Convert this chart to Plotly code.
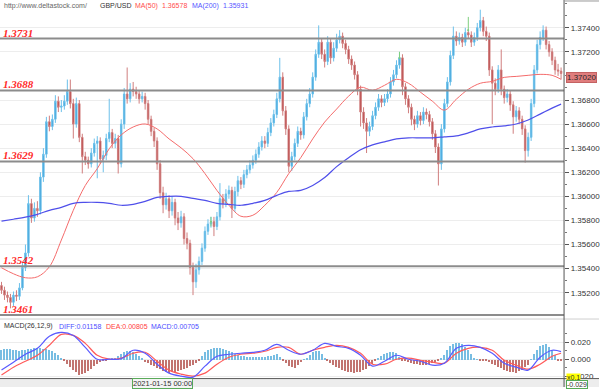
import plotly.graph_objects as go

# ---------------- data ----------------
opens = [
1.3526,1.3522,1.3518,1.3516,1.3512,1.3518,1.3517,1.3524,1.3541,1.3553,
1.3594,1.3582,1.3590,1.3588,1.3616,1.3635,1.3662,1.3658,1.3664,1.3679,
1.3674,1.3675,1.3679,1.3687,1.3677,1.3660,1.3677,1.3649,1.3633,1.3630,
1.3627,1.3636,1.3644,1.3646,1.3631,1.3634,1.3648,1.3653,1.3644,1.3648,
1.3627,1.3660,1.3685,1.3681,1.3689,1.3687,1.3685,1.3681,1.3683,1.3677,
1.3664,1.3654,1.3646,1.3627,1.3603,1.3593,1.3598,1.3588,1.3595,1.3582,
1.3578,1.3583,1.3565,1.3561,1.3541,1.3529,1.3539,1.3546,1.3557,1.3571,
1.3577,1.3579,1.3575,1.3583,1.3598,1.3594,1.3602,1.3605,1.3590,1.3604,
1.3613,1.3610,1.3618,1.3622,1.3626,1.3630,1.3635,1.3641,1.3646,1.3644,
1.3653,1.3661,1.3668,1.3681,1.3699,1.3671,1.3656,1.3625,1.3633,1.3644,
1.3654,1.3651,1.3666,1.3677,1.3685,1.3699,1.3718,1.3728,1.3718,1.3712,
1.3728,1.3715,1.3723,1.3730,1.3733,1.3727,1.3722,1.3714,1.3709,1.3701,
1.3689,1.3670,1.3661,1.3654,1.3658,1.3667,1.3674,1.3681,1.3678,1.3681,
1.3685,1.3695,1.3701,1.3709,1.3715,1.3691,1.3681,1.3674,1.3664,1.3660,
1.3667,1.3663,1.3670,1.3668,1.3662,1.3652,1.3641,1.3627,1.3656,1.3677,
1.3695,1.3717,1.3733,1.3729,1.3732,1.3728,1.3736,1.3734,1.3728,1.3732,
1.3740,1.3746,1.3737,1.3733,1.3705,1.3694,1.3689,1.3705,1.3689,1.3682,
1.3685,1.3676,1.3666,1.3671,1.3664,1.3656,1.3638,1.3649,1.3677,1.3705,
1.3726,1.3732,1.3738,1.3726,1.3720,1.3713,1.3705,1.3704]

highs = [
1.3529,1.3525,1.3521,1.3519,1.3521,1.3522,1.3528,1.3545,1.3560,1.3601,
1.3598,1.3595,1.3596,1.3620,1.3640,1.3666,1.3667,1.3668,1.3684,1.3683,
1.3680,1.3684,1.3697,1.3697,1.3681,1.3682,1.3680,1.3652,1.3637,1.3633,
1.3640,1.3648,1.3650,1.3649,1.3638,1.3652,1.3681,1.3656,1.3652,1.3651,
1.3664,1.3690,1.3707,1.3694,1.3695,1.3691,1.3688,1.3687,1.3686,1.3680,
1.3667,1.3657,1.3649,1.3630,1.3608,1.3603,1.3601,1.3600,1.3598,1.3587,
1.3588,1.3586,1.3570,1.3564,1.3545,1.3544,1.3550,1.3561,1.3575,1.3581,
1.3583,1.3583,1.3587,1.3611,1.3602,1.3606,1.3609,1.3608,1.3608,1.3617,
1.3616,1.3622,1.3626,1.3630,1.3634,1.3639,1.3645,1.3650,1.3650,1.3657,
1.3665,1.3672,1.3686,1.3715,1.3703,1.3675,1.3659,1.3637,1.3648,1.3658,
1.3657,1.3670,1.3681,1.3690,1.3703,1.3722,1.3742,1.3731,1.3722,1.3733,
1.3731,1.3728,1.3735,1.3738,1.3736,1.3730,1.3725,1.3717,1.3712,1.3704,
1.3692,1.3674,1.3665,1.3662,1.3671,1.3678,1.3685,1.3684,1.3685,1.3689,
1.3699,1.3705,1.3713,1.3720,1.3718,1.3694,1.3684,1.3677,1.3667,1.3671,
1.3670,1.3674,1.3673,1.3671,1.3665,1.3655,1.3644,1.3660,1.3681,1.3699,
1.3721,1.3741,1.3737,1.3736,1.3735,1.3740,1.3739,1.3737,1.3736,1.3744,
1.3755,1.3749,1.3741,1.3736,1.3708,1.3698,1.3709,1.3722,1.3692,1.3689,
1.3688,1.3679,1.3675,1.3674,1.3667,1.3659,1.3653,1.3681,1.3709,1.3730,
1.3737,1.3742,1.3741,1.3729,1.3723,1.3716,1.3710,1.3707]

lows = [
1.3519,1.3514,1.3512,1.3507,1.3509,1.3513,1.3514,1.3522,1.3538,1.3550,
1.3578,1.3579,1.3583,1.3585,1.3612,1.3632,1.3654,1.3655,1.3661,1.3670,
1.3670,1.3672,1.3676,1.3673,1.3648,1.3657,1.3645,1.3619,1.3626,1.3623,
1.3624,1.3633,1.3615,1.3627,1.3620,1.3630,1.3645,1.3640,1.3640,1.3619,
1.3624,1.3656,1.3677,1.3678,1.3683,1.3681,1.3677,1.3678,1.3672,1.3660,
1.3650,1.3641,1.3622,1.3598,1.3586,1.3589,1.3582,1.3584,1.3576,1.3572,
1.3574,1.3560,1.3556,1.3535,1.3518,1.3524,1.3535,1.3543,1.3554,1.3568,
1.3574,1.3567,1.3572,1.3580,1.3590,1.3591,1.3598,1.3582,1.3587,1.3600,
1.3606,1.3607,1.3615,1.3619,1.3623,1.3627,1.3632,1.3638,1.3640,1.3641,
1.3650,1.3658,1.3665,1.3678,1.3667,1.3651,1.3620,1.3621,1.3630,1.3641,
1.3647,1.3648,1.3663,1.3674,1.3682,1.3696,1.3715,1.3714,1.3707,1.3709,
1.3710,1.3712,1.3720,1.3727,1.3723,1.3718,1.3710,1.3705,1.3697,1.3684,
1.3658,1.3656,1.3636,1.3650,1.3655,1.3664,1.3671,1.3674,1.3675,1.3678,
1.3682,1.3692,1.3698,1.3706,1.3684,1.3676,1.3669,1.3659,1.3655,1.3657,
1.3659,1.3660,1.3664,1.3658,1.3647,1.3636,1.3609,1.3622,1.3653,1.3674,
1.3692,1.3714,1.3725,1.3726,1.3724,1.3725,1.3731,1.3724,1.3725,1.3729,
1.3737,1.3733,1.3729,1.3700,1.3660,1.3684,1.3686,1.3684,1.3677,1.3678,
1.3671,1.3652,1.3662,1.3660,1.3651,1.3628,1.3633,1.3646,1.3674,1.3702,
1.3722,1.3729,1.3722,1.3716,1.3709,1.3701,1.3700,1.3697]

closes = [
1.3522,1.3518,1.3516,1.3512,1.3518,1.3517,1.3524,1.3541,1.3553,1.3594,
1.3582,1.3590,1.3588,1.3616,1.3635,1.3662,1.3658,1.3664,1.3679,1.3674,
1.3675,1.3679,1.3687,1.3677,1.3660,1.3677,1.3649,1.3633,1.3630,1.3627,
1.3636,1.3644,1.3646,1.3631,1.3634,1.3648,1.3653,1.3644,1.3648,1.3627,
1.3660,1.3685,1.3681,1.3689,1.3687,1.3685,1.3681,1.3683,1.3677,1.3664,
1.3654,1.3646,1.3627,1.3603,1.3593,1.3598,1.3588,1.3595,1.3582,1.3578,
1.3583,1.3565,1.3561,1.3541,1.3529,1.3539,1.3546,1.3557,1.3571,1.3577,
1.3579,1.3575,1.3583,1.3598,1.3594,1.3602,1.3605,1.3590,1.3604,1.3613,
1.3610,1.3618,1.3622,1.3626,1.3630,1.3635,1.3641,1.3646,1.3644,1.3653,
1.3661,1.3668,1.3681,1.3699,1.3671,1.3656,1.3625,1.3633,1.3644,1.3654,
1.3651,1.3666,1.3677,1.3685,1.3699,1.3718,1.3728,1.3718,1.3712,1.3728,
1.3715,1.3723,1.3730,1.3733,1.3727,1.3722,1.3714,1.3709,1.3701,1.3689,
1.3670,1.3661,1.3654,1.3658,1.3667,1.3674,1.3681,1.3678,1.3681,1.3685,
1.3695,1.3701,1.3709,1.3715,1.3691,1.3681,1.3674,1.3664,1.3660,1.3667,
1.3663,1.3670,1.3668,1.3662,1.3652,1.3641,1.3627,1.3656,1.3677,1.3695,
1.3717,1.3733,1.3729,1.3732,1.3728,1.3736,1.3734,1.3728,1.3732,1.3740,
1.3746,1.3737,1.3733,1.3705,1.3694,1.3689,1.3705,1.3689,1.3682,1.3685,
1.3676,1.3666,1.3671,1.3664,1.3656,1.3638,1.3649,1.3677,1.3705,1.3726,
1.3732,1.3738,1.3726,1.3720,1.3713,1.3705,1.3704,1.3702]

# neutral (green) candles
doji_idx = [70, 133, 156]
doji_open = [1.3579, 1.3715, 1.3738]
doji_high = [1.3583, 1.3720, 1.3749]
doji_low = [1.3575, 1.3714, 1.3737]
doji_close = [1.3579, 1.3715, 1.3738]

# moving averages, sampled every 4 bars (+ last bar)
ma_idx = list(range(0, 188, 4)) + [187]
ma50 = [1.35407,1.35357,1.35324,1.35332,1.35415,1.35637,1.35884,1.36090,1.36230,1.36395,
        1.36510,1.36576,1.36601,1.36560,1.36477,1.36403,1.36313,1.36189,1.36049,1.35926,
        1.35835,1.35843,1.35926,1.36033,1.36189,1.36321,1.36477,1.36617,1.36725,1.36832,
        1.36906,1.36881,1.36922,1.36972,1.36939,1.36865,1.36790,1.36716,1.36807,1.36889,
        1.36939,1.36955,1.36988,1.36996,1.37005,1.37013,1.37005,1.36972]
ma200 = [1.35794,1.35810,1.35827,1.35851,1.35884,1.35909,1.35942,1.35950,1.35950,1.35942,
         1.35926,1.35934,1.35958,1.35991,1.36000,1.36000,1.35983,1.35967,1.35942,1.35934,
         1.35926,1.35942,1.35967,1.36008,1.36041,1.36049,1.36090,1.36156,1.36247,1.36321,
         1.36387,1.36428,1.36453,1.36477,1.36486,1.36486,1.36486,1.36494,1.36502,1.36527,
         1.36560,1.36576,1.36585,1.36601,1.36634,1.36683,1.36733,1.36766]

# MACD lines (same sampling as MAs)
diff = [-0.0129,-0.0035,0.0059,0.0129,0.0271,0.0318,0.0282,0.0141,0.0000,0.0000,
        0.0005,0.0106,0.0071,-0.0059,-0.0165,-0.0200,-0.0212,-0.0082,0.0035,0.0059,
        0.0071,0.0082,0.0106,0.0176,0.0106,0.0059,0.0106,0.0188,0.0153,0.0129,
        0.0047,-0.0082,-0.0024,0.0047,0.0000,-0.0024,-0.0071,-0.0047,0.0129,0.0165,
        0.0141,0.0071,-0.0047,-0.0094,-0.0129,0.0024,0.0106,0.0090]
dea = [-0.0188,-0.0094,-0.0024,0.0047,0.0165,0.0294,0.0282,0.0188,0.0047,0.0000,
       0.0012,0.0071,0.0082,-0.0024,-0.0129,-0.0176,-0.0200,-0.0165,-0.0059,0.0024,
       0.0059,0.0071,0.0094,0.0141,0.0141,0.0059,0.0106,0.0141,0.0165,0.0141,
       0.0071,-0.0059,-0.0059,0.0000,0.0012,-0.0012,-0.0035,-0.0047,0.0071,0.0129,
       0.0141,0.0106,-0.0012,-0.0071,-0.0118,-0.0059,0.0035,0.0071]
macd_hist = [
0.0118,0.0124,0.0129,0.0122,0.0118,0.0112,0.0106,0.0112,0.0118,0.0124,
0.0129,0.0135,0.0141,0.0135,0.0129,0.0124,0.0118,0.0100,0.0082,0.0053,
0.0024,-0.0012,-0.0047,-0.0082,-0.0118,-0.0147,-0.0176,-0.0165,-0.0153,-0.0130,
-0.0106,-0.0076,-0.0047,-0.0030,-0.0012,-0.0004,0.0006,0.0015,0.0024,0.0047,
0.0071,0.0088,0.0106,0.0100,0.0094,0.0071,0.0047,0.0012,-0.0024,-0.0041,
-0.0059,-0.0076,-0.0094,-0.0112,-0.0129,-0.0141,-0.0153,-0.0147,-0.0141,-0.0130,
-0.0118,-0.0106,-0.0094,-0.0076,-0.0059,-0.0035,-0.0012,0.0041,0.0094,0.0112,
0.0129,0.0135,0.0141,0.0135,0.0129,0.0118,0.0106,0.0088,0.0071,0.0059,
0.0047,0.0041,0.0035,0.0035,0.0035,0.0035,0.0035,0.0035,0.0035,0.0041,
0.0047,0.0059,0.0071,0.0030,-0.0012,-0.0041,-0.0071,-0.0082,-0.0094,-0.0059,
-0.0024,0.0004,0.0024,0.0059,0.0094,0.0100,0.0106,0.0065,0.0024,-0.0006,
-0.0035,-0.0059,-0.0082,-0.0100,-0.0118,-0.0130,-0.0141,-0.0147,-0.0153,-0.0147,
-0.0141,-0.0124,-0.0106,-0.0076,-0.0047,-0.0012,0.0024,0.0047,0.0071,0.0082,
0.0094,0.0088,0.0082,0.0035,-0.0012,-0.0018,-0.0024,-0.0035,-0.0047,-0.0053,
-0.0059,-0.0059,-0.0059,-0.0047,-0.0035,-0.0024,-0.0012,0.0024,0.0059,0.0112,
0.0165,0.0182,0.0200,0.0194,0.0188,0.0153,0.0118,0.0071,0.0024,0.0006,
-0.0012,-0.0012,-0.0012,-0.0030,-0.0047,-0.0065,-0.0082,-0.0100,-0.0118,-0.0130,
-0.0141,-0.0147,-0.0153,-0.0135,-0.0118,-0.0088,-0.0059,0.0006,0.0071,0.0118,
0.0165,0.0176,0.0188,0.0153,0.0118,0.0053,-0.0012,-0.0018]

price_ticks = [1.352, 1.354, 1.356, 1.358, 1.360, 1.362, 1.364, 1.366, 1.368, 1.372, 1.374]
levels = [1.3731, 1.3688, 1.3629, 1.3542]
level_labels = ["1.3731", "1.3688", "1.3629", "1.3542"]
off_level = "1.3461"
last_price = "1.37020"
date_label = "2021-01-15 00:00"

# ---------------- figure ----------------
W, H = 600, 390
def px(x): return x / W
def py(y): return 1 - y / H

idx = list(range(len(closes)))
FONT = "Liberation Sans"
XEND = px(565)

fig = go.Figure()
fig.add_trace(go.Candlestick(
    x=idx, open=opens, high=highs, low=lows, close=closes,
    increasing=dict(line=dict(color="#6cc0ea", width=1), fillcolor="#3c9fd8"),
    decreasing=dict(line=dict(color="#d07e7e", width=1), fillcolor="#b23c3c"),
    whiskerwidth=0, hoverinfo="skip", xaxis="x", yaxis="y"))
fig.add_trace(go.Candlestick(
    x=doji_idx, open=doji_open, high=doji_high, low=doji_low, close=doji_close,
    increasing=dict(line=dict(color="#7fcf7f", width=1), fillcolor="#5cb85c"),
    decreasing=dict(line=dict(color="#7fcf7f", width=1), fillcolor="#5cb85c"),
    whiskerwidth=0, hoverinfo="skip", xaxis="x", yaxis="y"))
fig.add_trace(go.Scatter(x=ma_idx, y=ma50, mode="lines",
    line=dict(color="#f46b6b", width=1, shape="spline"), hoverinfo="skip"))
fig.add_trace(go.Scatter(x=ma_idx, y=ma200, mode="lines",
    line=dict(color="#4f4fea", width=1.2, shape="spline"), hoverinfo="skip"))

fig.add_trace(go.Bar(x=idx, y=macd_hist, width=0.45,
    marker=dict(color=["#78bde2" if v >= 0 else "#c27470" for v in macd_hist], line=dict(width=0)),
    xaxis="x2", yaxis="y2", hoverinfo="skip"))
fig.add_trace(go.Scatter(x=ma_idx, y=dea, mode="lines", xaxis="x2", yaxis="y2",
    line=dict(color="#ff5a5a", width=1.2, shape="spline"), hoverinfo="skip"))
fig.add_trace(go.Scatter(x=ma_idx, y=diff, mode="lines", xaxis="x2", yaxis="y2",
    line=dict(color="#5a5aff", width=1.2, shape="spline"), hoverinfo="skip"))

shapes = []
for lv in levels:
    shapes.append(dict(type="line", xref="x domain", yref="y", x0=0, x1=1, y0=lv, y1=lv,
                       line=dict(color="#8c8c8c", width=2), layer="above"))
# off-scale level clamped to the bottom edge
shapes.append(dict(type="line", xref="paper", yref="paper", x0=0, x1=XEND, y0=py(317.5), y1=py(317.5),
                   line=dict(color="#8c8c8c", width=2)))
# panel separators
shapes.append(dict(type="line", xref="paper", yref="paper", x0=0, x1=1, y0=py(321.5), y1=py(321.5),
                   line=dict(color="#cfcfcf", width=1)))
shapes.append(dict(type="rect", xref="paper", yref="paper", x0=0, x1=1, y0=0, y1=py(381.5),
                   fillcolor="#ededed", line=dict(width=0)))
shapes.append(dict(type="line", xref="paper", yref="paper", x0=0, x1=1, y0=py(381.5), y1=py(381.5),
                   line=dict(color="#5a5a5a", width=1)))
shapes.append(dict(type="line", xref="paper", yref="paper", x0=XEND, x1=XEND, y0=0, y1=1,
                   line=dict(color="#555555", width=1)))
shapes.append(dict(type="line", xref="paper", yref="paper", x0=XEND, x1=1, y0=py(1), y1=py(1),
                   line=dict(color="#999999", width=1)))

ann = []
def text(x, y, s, color, size=7, anchor="left", **kw):
    ann.append(dict(x=px(x), y=py(y), xref="paper", yref="paper", text=s, showarrow=False,
                    xanchor=anchor, yanchor="middle", font=dict(family=FONT, size=size, color=color), **kw))

text(2, 6, "http://www.deltastock.com/", "#666666")
text(98, 6, "GBP/USD", "#333333")
text(133, 6, "MA(50)", "#ff4d4d")
text(160, 6, "1.36578", "#ff4d4d")
text(190, 6, "MA(200)", "#5555ff")
text(221, 6, "1.35931", "#5555ff")

for lv, lab in zip(levels, level_labels):
    ann.append(dict(x=0.002, y=lv, xref="paper", yref="y", text="<b><i>%s</i></b>" % lab,
                    showarrow=False, xanchor="left", yanchor="middle", yshift=6,
                    font=dict(family="Liberation Serif", size=11, color="#ff2a2a")))
text(1, 311, "<b><i>%s</i></b>" % off_level, "#ff2a2a", size=11)
ann[-1]["font"]["family"] = "Liberation Serif"

text(567, 78, last_price, "#2a2a2a", size=8, bgcolor="#e07d7d", bordercolor="#c46262",
     borderwidth=1, borderpad=0)

text(2, 329, "MACD(26,12,9)", "#333333")
text(57, 329, "DIFF:0.01158", "#4d4dff")
text(104, 329, "DEA:0.00805", "#ff4040")
text(149, 329, "MACD:0.00705", "#4d4dff")

text(567, 380, "x0.1", "#333333", bgcolor="#ffff00", borderpad=0)
text(567, 387.5, "-0.029", "#333333", bgcolor="#ffffff", bordercolor="#55aa55",
     borderwidth=1, borderpad=0)
text(163, 386, date_label, "#333333", size=7.5, anchor="center", bgcolor="#f4f4f4",
     bordercolor="#5aaa5a", borderwidth=1, borderpad=0)

xcommon = dict(showticklabels=False, showgrid=False, zeroline=False, showline=False,
               ticks="", range=[-0.5, 188], domain=[0, XEND])

fig.update_layout(
    width=W, height=H, margin=dict(l=0, r=0, t=0, b=0),
    paper_bgcolor="white", plot_bgcolor="white", showlegend=False, bargap=0,
    xaxis=dict(anchor="y", rangeslider=dict(visible=False), **xcommon),
    xaxis2=dict(anchor="y2", matches="x", **xcommon),
    yaxis=dict(domain=[py(319), py(2)], range=[1.35002, 1.37614], side="right", anchor="x",
               tickvals=price_ticks, tickformat=".5f", ticks="outside", ticklen=4,
               tickcolor="#555555", tickfont=dict(family=FONT, size=8, color="#333333"),
               showgrid=True, gridcolor="#ededed", gridwidth=1, zeroline=False, showline=False,
               minor=dict(dtick=0.001, tick0=1.351, ticks="outside", ticklen=2, tickcolor="#777777",
                          showgrid=False)),
    yaxis2=dict(domain=[py(381), py(323)], range=[-0.02235, 0.04588], side="right", anchor="x2",
                tickvals=[-0.02, 0.0, 0.02], ticktext=["-0.020", "0.000", "0.020"],
                ticks="outside", ticklen=4, tickcolor="#555555",
                tickfont=dict(family=FONT, size=8, color="#333333"),
                showgrid=True, gridcolor="#ececec", zeroline=False, showline=False,
                minor=dict(tickvals=[-0.01, 0.01, 0.03], ticks="outside", ticklen=2,
                           tickcolor="#777777", showgrid=False)),
    shapes=shapes, annotations=ann,
)

fig.write_html("out.html")
